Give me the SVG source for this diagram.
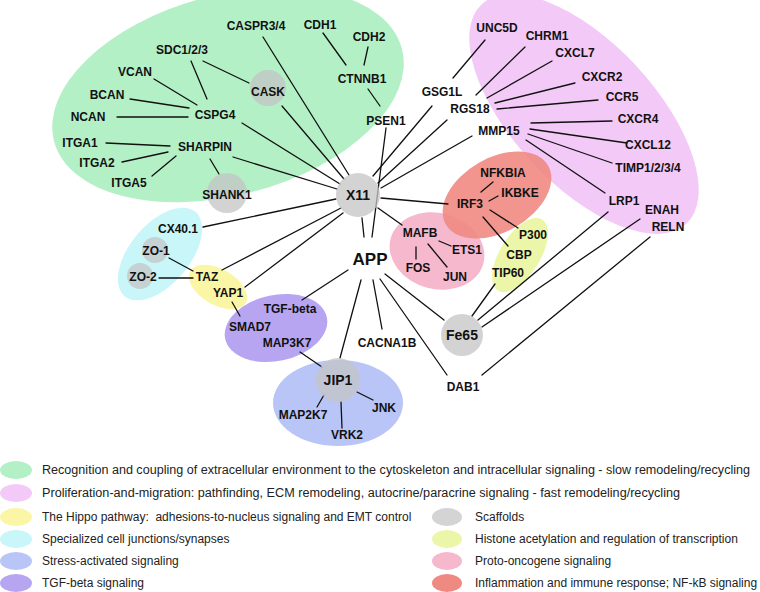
<svg xmlns="http://www.w3.org/2000/svg" width="760" height="592" viewBox="0 0 760 592">
<style>
.n{font-family:"Liberation Sans",Arial,sans-serif;font-weight:bold;font-size:12px;text-anchor:middle;fill:#111}
.s{font-size:14px}
.big{font-size:17px}
.lg{font-family:"Liberation Sans",Arial,sans-serif;font-size:12px;fill:#222}
.c line{stroke:#111;stroke-width:1.3;stroke-linecap:round}
.sc{fill:#c4c4c4;fill-opacity:0.75}
.green{fill:#b4f0c6}.purple{fill:#f2c9f7}.yellow{fill:#fbf6a6}.cyan{fill:#c8f6f9}
.blue{fill:#b9c5f6}.tgf{fill:#b7a5f2}.gray{fill:#d4d4d4}.hist{fill:#ecf6a9}.pink{fill:#f5b8cd}.red{fill:#ef8a82}
</style>
<rect width="760" height="592" fill="#fff"/>
<g id="groups">
<ellipse class="green" cx="228" cy="95" rx="180" ry="100" transform="rotate(-15 228 95)"/>
<ellipse class="purple" cx="584" cy="114" rx="150" ry="71" transform="rotate(47 584 114)"/>
<ellipse class="cyan" cx="160" cy="254" rx="55" ry="30" transform="rotate(-50 160 254)"/>
<ellipse class="yellow" cx="218" cy="287" rx="32" ry="18" transform="rotate(30 218 287)"/>
<ellipse class="tgf" cx="276" cy="328" rx="52" ry="33" transform="rotate(-12 276 328)"/>
<ellipse class="blue" cx="338" cy="403" rx="65" ry="43"/>
<ellipse class="pink" cx="437" cy="251" rx="48" ry="38" transform="rotate(15 437 251)"/>
<ellipse class="red" cx="497" cy="195" rx="59" ry="37" transform="rotate(-30 497 195)" fill-opacity="0.9"/>
<ellipse class="hist" cx="520" cy="255" rx="42" ry="20" transform="rotate(-58 520 255)"/>
</g>
<g id="connectors" class="c">
<line x1="191" y1="61" x2="207" y2="99"/>
<line x1="203" y1="61" x2="249" y2="83"/>
<line x1="154" y1="79" x2="197" y2="105"/>
<line x1="130" y1="99" x2="189" y2="108"/>
<line x1="117" y1="117" x2="188" y2="117"/>
<line x1="106" y1="143" x2="170" y2="146"/>
<line x1="122" y1="162" x2="168" y2="152"/>
<line x1="152" y1="176" x2="176" y2="156"/>
<line x1="210" y1="159" x2="219" y2="174"/>
<line x1="242" y1="123" x2="340" y2="184"/>
<line x1="233" y1="157" x2="337" y2="189"/>
<line x1="263" y1="37" x2="349" y2="175"/>
<line x1="282" y1="106" x2="344" y2="179"/>
<line x1="323" y1="33" x2="346" y2="65"/>
<line x1="368" y1="47" x2="364" y2="65"/>
<line x1="368" y1="89" x2="380" y2="106"/>
<line x1="386" y1="128" x2="372" y2="237"/>
<line x1="432" y1="106" x2="373" y2="176"/>
<line x1="447" y1="120" x2="378" y2="183"/>
<line x1="472" y1="136" x2="381" y2="188"/>
<line x1="485" y1="40" x2="453" y2="78"/>
<line x1="525" y1="47" x2="476" y2="95"/>
<line x1="552" y1="61" x2="487" y2="98"/>
<line x1="575" y1="83" x2="495" y2="103"/>
<line x1="598" y1="100" x2="497" y2="109"/>
<line x1="612" y1="121" x2="531" y2="123"/>
<line x1="627" y1="143" x2="530" y2="129"/>
<line x1="612" y1="163" x2="528" y2="134"/>
<line x1="605" y1="193" x2="526" y2="140"/>
<line x1="381" y1="198" x2="448" y2="204"/>
<line x1="378" y1="208" x2="402" y2="225"/>
<line x1="336" y1="199" x2="203" y2="227"/>
<line x1="341" y1="208" x2="222" y2="270"/>
<line x1="343" y1="213" x2="245" y2="287"/>
<line x1="362" y1="218" x2="364" y2="237"/>
<line x1="169" y1="258" x2="193" y2="271"/>
<line x1="159" y1="278" x2="193" y2="278"/>
<line x1="232" y1="302" x2="240" y2="316"/>
<line x1="302" y1="300" x2="348" y2="270"/>
<line x1="300" y1="352" x2="322" y2="367"/>
<line x1="361" y1="280" x2="340" y2="358"/>
<line x1="373" y1="280" x2="382" y2="329"/>
<line x1="385" y1="274" x2="444" y2="320"/>
<line x1="380" y1="279" x2="447" y2="375"/>
<line x1="439" y1="241" x2="451" y2="246"/>
<line x1="416" y1="247" x2="416" y2="259"/>
<line x1="428" y1="244" x2="447" y2="267"/>
<line x1="481" y1="192" x2="493" y2="182"/>
<line x1="489" y1="201" x2="498" y2="196"/>
<line x1="490" y1="210" x2="518" y2="228"/>
<line x1="483" y1="217" x2="508" y2="246"/>
<line x1="472" y1="316" x2="495" y2="284"/>
<line x1="478" y1="320" x2="608" y2="212"/>
<line x1="482" y1="327" x2="640" y2="219"/>
<line x1="482" y1="375" x2="650" y2="237"/>
<line x1="324" y1="395" x2="317" y2="407"/>
<line x1="341" y1="402" x2="342" y2="428"/>
<line x1="357" y1="392" x2="373" y2="400"/>
</g>
<g id="CASPR34"><text class="n" x="256" y="30">CASPR3/4</text></g>
<g id="SDC123"><text class="n" x="182" y="54">SDC1/2/3</text></g>
<g id="VCAN"><text class="n" x="135" y="76">VCAN</text></g>
<g id="BCAN"><text class="n" x="107" y="99">BCAN</text></g>
<g id="NCAN"><text class="n" x="88" y="121">NCAN</text></g>
<g id="CSPG4"><text class="n" x="215" y="119">CSPG4</text></g>
<g id="ITGA1"><text class="n" x="80" y="147">ITGA1</text></g>
<g id="SHARPIN"><text class="n" x="205" y="151">SHARPIN</text></g>
<g id="ITGA2"><text class="n" x="97" y="167">ITGA2</text></g>
<g id="ITGA5"><text class="n" x="129" y="187">ITGA5</text></g>
<g id="CASK"><circle class="sc" cx="268" cy="88" r="18"/><text class="n" x="268" y="96">CASK</text></g>
<g id="SHANK1"><circle class="sc" cx="227" cy="193" r="20"/><text class="n" x="227" y="199">SHANK1</text></g>
<g id="CDH1"><text class="n" x="320" y="29">CDH1</text></g>
<g id="CDH2"><text class="n" x="369" y="41">CDH2</text></g>
<g id="CTNNB1"><text class="n" x="362" y="83">CTNNB1</text></g>
<g id="PSEN1"><text class="n" x="386" y="125">PSEN1</text></g>
<g id="GSG1L"><text class="n" x="442" y="96">GSG1L</text></g>
<g id="RGS18"><text class="n" x="470" y="113">RGS18</text></g>
<g id="MMP15"><text class="n" x="499" y="135">MMP15</text></g>
<g id="UNC5D"><text class="n" x="497" y="32">UNC5D</text></g>
<g id="CHRM1"><text class="n" x="547" y="40">CHRM1</text></g>
<g id="CXCL7"><text class="n" x="575" y="57">CXCL7</text></g>
<g id="CXCR2"><text class="n" x="602" y="81">CXCR2</text></g>
<g id="CCR5"><text class="n" x="622" y="101">CCR5</text></g>
<g id="CXCR4"><text class="n" x="638" y="123">CXCR4</text></g>
<g id="CXCL12"><text class="n" x="648" y="149">CXCL12</text></g>
<g id="TIMP1234"><text class="n" x="648" y="172">TIMP1/2/3/4</text></g>
<g id="LRP1"><text class="n" x="624" y="205">LRP1</text></g>
<g id="ENAH"><text class="n" x="662" y="214">ENAH</text></g>
<g id="RELN"><text class="n" x="668" y="231">RELN</text></g>
<g id="NFKBIA"><text class="n" x="503" y="177">NFKBIA</text></g>
<g id="IKBKE"><text class="n" x="520" y="197">IKBKE</text></g>
<g id="IRF3"><text class="n" x="470" y="208">IRF3</text></g>
<g id="P300"><text class="n" x="533" y="239">P300</text></g>
<g id="CBP"><text class="n" x="519" y="259">CBP</text></g>
<g id="TIP60"><text class="n" x="508" y="277">TIP60</text></g>
<g id="MAFB"><text class="n" x="420" y="237">MAFB</text></g>
<g id="ETS1"><text class="n" x="467" y="254">ETS1</text></g>
<g id="FOS"><text class="n" x="418" y="272">FOS</text></g>
<g id="JUN"><text class="n" x="455" y="281">JUN</text></g>
<g id="X11"><circle class="sc" cx="358" cy="195" r="22"/><text class="n s" x="358" y="200">X11</text></g>
<g id="APP"><text class="n big" x="370" y="265">APP</text></g>
<g id="CACNA1B"><text class="n" x="387" y="347">CACNA1B</text></g>
<g id="Fe65"><circle class="sc" cx="462" cy="335" r="21"/><text class="n s" x="462" y="340">Fe65</text></g>
<g id="DAB1"><text class="n" x="463" y="391">DAB1</text></g>
<g id="CX401"><text class="n" x="178" y="233">CX40.1</text></g>
<g id="ZO1"><circle class="sc" cx="155" cy="250" r="13"/><text class="n" x="156" y="255">ZO-1</text></g>
<g id="ZO2"><circle class="sc" cx="140" cy="276" r="13"/><text class="n" x="143" y="281">ZO-2</text></g>
<g id="TAZ"><text class="n" x="207" y="281">TAZ</text></g>
<g id="YAP1"><text class="n" x="228" y="297">YAP1</text></g>
<g id="TGFbeta"><text class="n" x="290" y="313">TGF-beta</text></g>
<g id="SMAD7"><text class="n" x="250" y="331">SMAD7</text></g>
<g id="MAP3K7"><text class="n" x="287" y="347">MAP3K7</text></g>
<g id="JIP1"><circle class="sc" cx="338" cy="380" r="22"/><text class="n s" x="338" y="385">JIP1</text></g>
<g id="MAP2K7"><text class="n" x="303" y="419">MAP2K7</text></g>
<g id="VRK2"><text class="n" x="347" y="439">VRK2</text></g>
<g id="JNK"><text class="n" x="384" y="412">JNK</text></g>
<g id="legend">
<ellipse class="green" cx="16" cy="470" rx="16" ry="9"/>
<text class="lg" x="42" y="474" textLength="708" lengthAdjust="spacingAndGlyphs">Recognition and coupling of extracellular environment to the cytoskeleton and intracellular signaling - slow remodeling/recycling</text>
<ellipse class="purple" cx="16" cy="493" rx="16" ry="9"/>
<text class="lg" x="42" y="497" textLength="638" lengthAdjust="spacingAndGlyphs">Proliferation-and-migration: pathfinding, ECM remodeling, autocrine/paracrine signaling - fast remodeling/recycling</text>
<ellipse class="yellow" cx="16" cy="517" rx="16" ry="9"/>
<text class="lg" x="42" y="521" xml:space="preserve">The Hippo pathway:  adhesions-to-nucleus signaling and EMT control</text>
<ellipse class="cyan" cx="16" cy="539" rx="16" ry="9"/>
<text class="lg" x="42" y="543">Specialized cell junctions/synapses</text>
<ellipse class="blue" cx="16" cy="561" rx="16" ry="9"/>
<text class="lg" x="42" y="565">Stress-activated signaling</text>
<ellipse class="tgf" cx="16" cy="583" rx="16" ry="9"/>
<text class="lg" x="42" y="587">TGF-beta signaling</text>
<ellipse class="gray" cx="447" cy="517" rx="15" ry="9"/>
<text class="lg" x="475" y="521">Scaffolds</text>
<ellipse class="hist" cx="447" cy="539" rx="15" ry="9"/>
<text class="lg" x="475" y="543">Histone acetylation and regulation of transcription</text>
<ellipse class="pink" cx="447" cy="561" rx="15" ry="9"/>
<text class="lg" x="475" y="565">Proto-oncogene signaling</text>
<ellipse class="red" cx="447" cy="583" rx="15" ry="9"/>
<text class="lg" x="475" y="587">Inflammation and immune response; NF-kB signaling</text>
</g>
</svg>
